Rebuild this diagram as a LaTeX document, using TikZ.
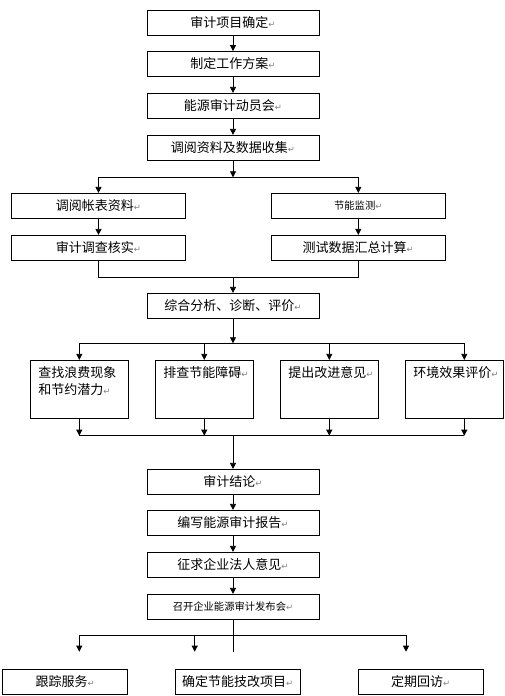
\documentclass[tikz,border=0pt]{standalone}
\usepackage{fontspec}
\setmainfont{Noto Sans CJK SC}
\newfontfamily\symfont{DejaVu Sans}
\usetikzlibrary{arrows.meta}
\begin{document}
\begin{tikzpicture}[x=1pt,y=-1pt]
            \tikzset{
                box/.style={draw,line width=0.8pt,minimum width=172pt,minimum height=25pt,inner sep=0pt,font=\fontsize{13}{15}\selectfont},
                side/.style={box,minimum width=174pt},
                foot/.style={box,minimum width=125pt},
                quad/.style={draw,line width=0.8pt,inner xsep=8pt,inner ysep=6pt,font=\fontsize{13}{17.5}\selectfont},
                small/.style={font=\fontsize{10.3}{12}\selectfont},
                arr/.style={line width=0.8pt,-{Triangle[length=6pt,width=6pt]}},
                link/.style={line width=0.8pt},}
            \def\ret{{\symfont\fontsize{8.5}{8}\selectfont\color{gray}↵}}
            \def\quadtext#1{\parbox[c][46pt][t]{82pt}{#1}}
            \useasboundingbox (0,0) rectangle (505,696);
            % main column
            \node [box] (n1) at (233,22.8) {审计项目确定\ret};
            \node [box] (n2) at (233,64) {制定工作方案\ret};
            \node [box] (n3) at (233,105.8) {能源审计动员会\ret};
            \node [box] (n4) at (233,147.8) {调阅资料及数据收集\ret};
            \node [side] (l1) at (98.5,205.8) {调阅帐表资料\ret};
            \node [side] (l2) at (98.5,247.8) {审计调查核实\ret};
            \node [side,small] (r1) at (358.3,205.8) {节能监测\ret};
            \node [side] (r2) at (358.3,247.8) {测试数据汇总计算\ret};
            \node [box] (n5) at (233,305.8) {综合分析、诊断、评价\ret};
            \node [quad] (qa) at (79.3,389.3) {\quadtext{查找浪费现象\\和节约潜力\ret}};
            \node [quad] (qb) at (204.3,389.3) {\quadtext{排查节能障碍\ret}};
            \node [quad] (qc) at (329.3,389.3) {\quadtext{提出改进意见\ret}};
            \node [quad] (qd) at (454.3,389.3) {\quadtext{环境效果评价\ret}};
            \node [box] (n6) at (233,481.8) {审计结论\ret};
            \node [box] (n7) at (233,522.8) {编写能源审计报告\ret};
            \node [box] (n8) at (233,564.8) {征求企业法人意见\ret};
            \node [box,small] (n9) at (233,606.8) {召开企业能源审计发布会\ret};
            \node [foot] (f1) at (65.2,681.8) {跟踪服务\ret};
            \node [foot] (f2) at (237.8,681.8) {确定节能技改项目\ret};
            \node [foot] (f3) at (420.8,681.8) {定期回访\ret};
            % junctions
            \coordinate (s0) at (233,177.3);
            \coordinate (m0) at (233,277.3);
            \coordinate (s1) at (233,343.3);
            \coordinate (s1d) at (464.3,343.3);
            \coordinate (m1) at (233,435.7);
            \coordinate (s2) at (233,635);
            \coordinate (e1) at (79.3,651.7);
            \coordinate (e2) at (194.7,651.7);
            \coordinate (e3) at (406,651.7);
            \coordinate (e4) at (233,652.3);
            \draw [arr] (n1) -- (n2);
            \draw [arr] (n2) -- (n3);
            \draw [arr] (n3) -- (n4);
            \draw [arr] (n4) -- (s0);
            \draw [link] (s0 -| l1) -- (s0 -| r1);
            \draw [arr] (s0 -| l1) -- (l1);
            \draw [arr] (s0 -| r1) -- (r1);
            \draw [arr] (l1) -- (l2);
            \draw [arr] (r1) -- (r2);
            \draw [link] (l2) -- (m0 -| l2) -- (m0 -| r2) -- (r2);
            \draw [arr] (m0) -- (n5);
            \draw [arr] (n5) -- (s1);
            \draw [link] (s1 -| qa) -- (s1d);
            \foreach \q in {qa,qb,qc}
                \draw [arr] (s1 -| \q) -- (\q);
            \draw [arr] (s1d) -- (s1d |- qd.north);
            \foreach \q in {qa,qb,qc}
                \draw [arr] (\q) -- (m1 -| \q);
            \draw [arr] (s1d |- qd.south) -- (s1d |- m1);
            \draw [link] (m1 -| qa) -- (s1d |- m1);
            \draw [arr] (m1) -- (n6);
            \draw [arr] (n6) -- (n7);
            \draw [arr] (n7) -- (n8);
            \draw [arr] (n8) -- (n9);
            \draw [link] (n9) -- (e4);
            \draw [link] (s2 -| e1) -- (s2 -| e3);
            \foreach \e in {e1,e2,e3}
                \draw [arr] (s2 -| \e) -- (\e);
        \end{tikzpicture}
\end{document}
